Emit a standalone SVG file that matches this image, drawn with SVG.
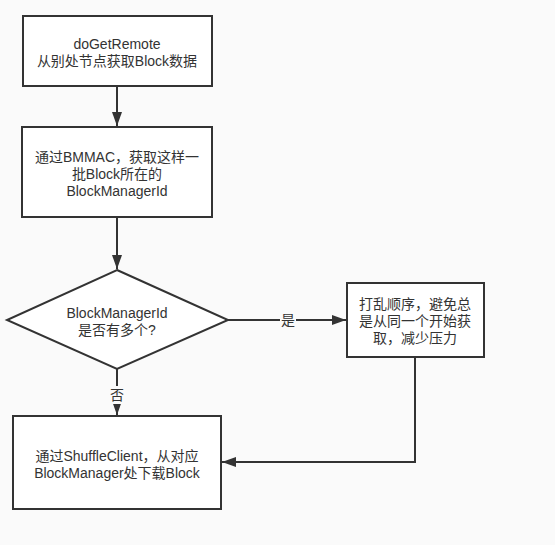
<svg xmlns="http://www.w3.org/2000/svg" width="555" height="545" viewBox="0 0 555 545">
<style>
.n{fill:#fff;stroke:#333;stroke-width:2}
.t{font-family:"Liberation Sans","Noto Sans CJK SC",sans-serif;font-size:14px;fill:#333;text-anchor:middle;dominant-baseline:central}
.c{fill:none;stroke:#333;stroke-width:2}
.lb{fill:#fafafa}
</style>
<defs>
<marker id="a" markerWidth="10" markerHeight="10" viewBox="0 0 10 10" refX="9" refY="5" markerUnits="userSpaceOnUse" orient="auto" overflow="visible">
<path d="M0,0 L14,5 L0,10 Z" transform="translate(-5,0)" fill="#333"/>
</marker>
</defs>
<rect width="555" height="545" fill="#fafafa"/>
<g id="connectors">
<line class="c" x1="117" y1="86" x2="117" y2="126" marker-end="url(#a)"/>
<line class="c" x1="117" y1="217" x2="117" y2="269" marker-end="url(#a)"/>
<line class="c" x1="117" y1="368" x2="117" y2="415" marker-end="url(#a)"/>
<line class="c" x1="228" y1="320" x2="346" y2="320" marker-end="url(#a)"/>
<polyline class="c" points="415,357 415,462 222,462" marker-end="url(#a)"/>
<rect class="lb" x="109" y="386" width="16" height="18"/>
<text class="t" x="117" y="395">否</text>
<rect class="lb" x="280" y="312" width="16" height="17"/>
<text class="t" x="288" y="320">是</text>
</g>
<g id="n1">
<rect class="n" x="23" y="16" width="189" height="70"/>
<text class="t" x="117" y="44">doGetRemote</text>
<text class="t" x="117" y="61">从别处节点获取Block数据</text>
</g>
<g id="n2">
<rect class="n" x="22" y="127" width="190" height="90"/>
<text class="t" x="117" y="157">通过BMMAC，获取这样一</text>
<text class="t" x="117" y="174">批Block所在的</text>
<text class="t" x="117" y="191">BlockManagerId</text>
</g>
<g id="n3">
<polygon class="n" points="117,270 228,320 117,369 7,320"/>
<text class="t" x="117" y="313">BlockManagerId</text>
<text class="t" x="117" y="330">是否有多个?</text>
</g>
<g id="n4">
<rect class="n" x="347" y="283" width="137" height="74"/>
<text class="t" x="415" y="304">打乱顺序，避免总</text>
<text class="t" x="415" y="321">是从同一个开始获</text>
<text class="t" x="415" y="338">取，减少压力</text>
</g>
<g id="n5">
<rect class="n" x="13" y="416" width="208" height="93"/>
<text class="t" x="117" y="456">通过ShuffleClient，从对应</text>
<text class="t" x="117" y="473">BlockManager处下载Block</text>
</g>
</svg>
